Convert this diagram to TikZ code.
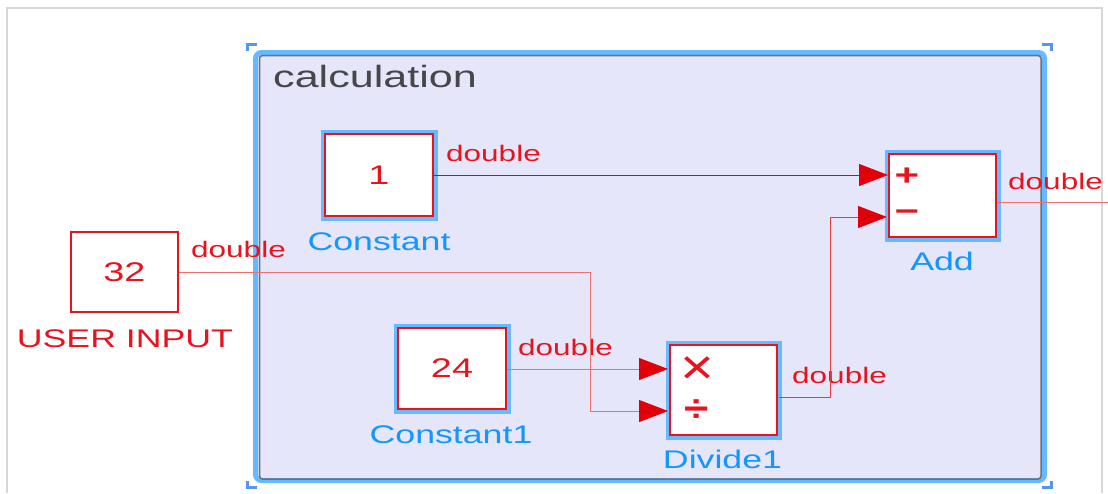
\documentclass[tikz,border=0pt]{standalone}
\usepackage{fontspec}
\usepackage{graphicx}
\setmainfont{Liberation Sans}
\usetikzlibrary{arrows.meta}
\definecolor{sred}{RGB}{230,20,30}
\definecolor{ared}{RGB}{225,0,10}
\definecolor{lred}{RGB}{240,110,110}
\definecolor{dred}{RGB}{175,20,45}
\definecolor{halo}{RGB}{105,185,255}
\definecolor{lblue}{RGB}{20,150,255}
\definecolor{lav}{RGB}{230,230,250}
\definecolor{sysblue}{RGB}{100,185,255}
\definecolor{sysgray}{RGB}{110,110,125}
\definecolor{cornerblue}{RGB}{85,150,240}
\definecolor{framegray}{RGB}{215,215,215}
\newcommand{\hs}[1]{\scalebox{1.4}[1]{#1}}
\tikzset{
  blk/.style={draw=sred, line width=2pt, fill=white, inner sep=0pt, text=sred,
    font=\fontsize{27}{27}\selectfont},
  haloed/.style={preaction={draw=halo, line width=9pt}},
  lbl/.style={text=lblue, inner sep=0pt, anchor=base, font=\fontsize{25.5}{25.5}\selectfont},
  sig/.style={text=sred, inner sep=0pt, anchor=base west, font=\fontsize{22.5}{22.5}\selectfont},
  sym/.style={text=sred, inner sep=0pt},
  wire/.style={draw=lred, line width=1pt},
  tip/.style={-{Triangle[length=29pt,width=22pt,fill=ared,color=ared]}},
  corner/.style={draw=cornerblue, line width=3pt}
}
\begin{document}
\begin{tikzpicture}[x=1pt,y=-1pt]
\useasboundingbox[fill=white] (0,0) rectangle (1108,493);
% outer frame
\draw[framegray, line width=1.2pt] (7,493) -- (7,8) -- (1102,8) -- (1102,493);
% subsystem
\draw[draw=sysblue, fill=lav, line width=5pt, rounded corners=6pt] (255.5,52.5) rectangle (1044.5,480.5);
\draw[draw=sysgray, line width=1.5pt, rounded corners=3pt] (259.5,55.5) rectangle (1041,479);
\node[text={rgb,255:red,70;green,70;blue,75}, inner sep=0pt, anchor=base west, font=\fontsize{30.8}{30.8}\selectfont] (title) at (273,87) {\hs{calculation}};
% corner marks
\draw[corner] (257,44.5) -- (247.5,44.5) -- (247.5,51);
\draw[corner] (1042,44.5) -- (1051.5,44.5) -- (1051.5,51);
\draw[corner] (247.5,481) -- (247.5,487.5) -- (257,487.5);
\draw[corner] (1051.5,481) -- (1051.5,487.5) -- (1042,487.5);
% blocks
\node[blk, haloed, minimum width=108pt, minimum height=82pt] (cst) at (379,175) {\hs{1}};
\node[blk, haloed, minimum width=107pt, minimum height=83pt] (add) at (942.5,195.5) {};
\node[blk, haloed, minimum width=108pt, minimum height=81pt] (cst1) at (452,368.5) {\hs{24}};
\node[blk, haloed, minimum width=107pt, minimum height=90pt] (div) at (723.5,390) {};
\node[blk, minimum width=107pt, minimum height=80pt] (uin) at (124.5,272) {\hs{32}};
% port symbols
\node[sym, font=\bfseries\fontsize{30}{30}\selectfont] (plus) at (907,177) {\hs{+}};
\node[sym, font=\bfseries\fontsize{30}{30}\selectfont] (minus) at (907,216) {\hs{\textminus}};
\node[sym, font=\fontsize{40}{40}\selectfont] (times) at (697,371) {\scalebox{1.45}[1.25]{×}};
\node[sym, font=\bfseries\fontsize{34}{34}\selectfont] (divs) at (697,411) {\scalebox{1.3}[1.1]{÷}};
% block labels
\node[lbl] (lcst) at (379,250) {\hs{Constant}};
\node[lbl] (ladd) at (942,270) {\hs{Add}};
\node[lbl] (lcst1) at (451,443) {\hs{Constant1}};
\node[lbl] (ldiv) at (722.5,468) {\hs{Divide1}};
\node[lbl, text=sred] (luin) at (125,347) {\hs{USER INPUT}};
% signal labels
\node[sig] (s1) at (446,161) {\hs{double}};
\node[sig] (s2) at (1008,189) {\hs{double}};
\node[sig] (s3) at (191,257) {\hs{double}};
\node[sig] (s4) at (518,355) {\hs{double}};
\node[sig] (s5) at (792,383) {\hs{double}};
% ports / coordinates
\coordinate (addin2) at (887,217);
\coordinate (addout) at (998,202);
\coordinate (outend) at (1108,202);
\coordinate (divin1) at (668,369);
\coordinate (divin2) at (668,411);
\coordinate (divout) at (779,397);
\coordinate (j1) at (590,0);
\coordinate (j2) at (830,0);
% connectors
\draw[draw=dred, line width=1pt, tip] (cst.east) -- (cst.east -| add.west);
\draw[wire, tip] (cst1.east |- divin1) -- (divin1);
\draw[wire, tip] (uin.east) -| (j1 |- divin2) -- (divin2);
\draw[draw=sred!85, line width=1pt, tip] (divout) -| (j2 |- addin2) -- (addin2);
\draw[wire] (addout) -- (outend);
\end{tikzpicture}
\end{document}
